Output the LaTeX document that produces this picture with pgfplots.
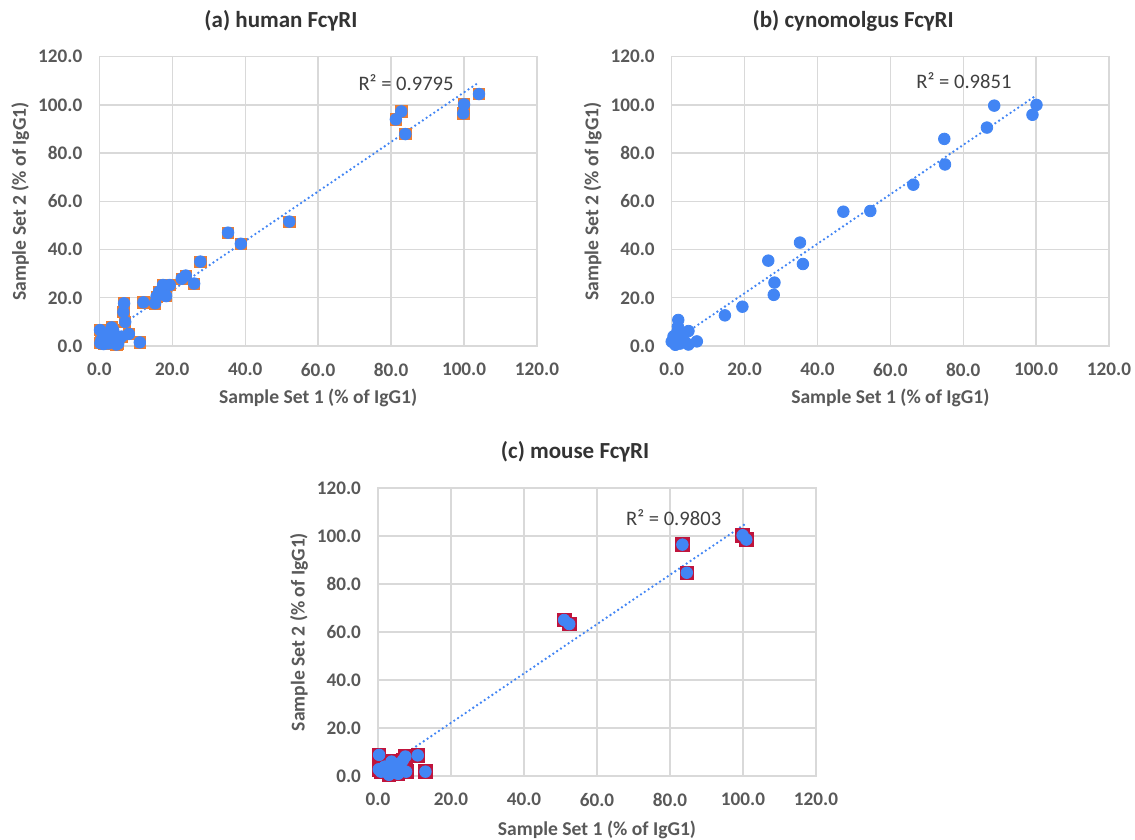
\documentclass[border=0pt]{standalone}
\usepackage{fontspec}
\setmainfont{Carlito}
\usepackage{pgfplots}
\pgfplotsset{compat=1.18}
\usepackage{pgfplotstable}

\definecolor{xlblue}{HTML}{4285F4}
\definecolor{xlorange}{HTML}{ED7D31}
\definecolor{xlred}{HTML}{C0143C}
\definecolor{tickgray}{HTML}{595959}
\definecolor{titlegray}{HTML}{333333}
\definecolor{rgray}{HTML}{404040}
\definecolor{gridgray}{HTML}{D9D9D9}

\newcommand{\ticksfont}{\fontsize{9.6pt}{10pt}\selectfont\bfseries}
\newcommand{\labelfont}{\fontsize{9.8pt}{10pt}\selectfont\bfseries}
\newcommand{\titlefont}{\fontsize{11.5pt}{12pt}\selectfont\bfseries}
\newcommand{\rfont}{\fontsize{10.3pt}{12pt}\selectfont}

% human FcgRI
\pgfplotstableread{
x y
104.1 104.5
100.0 100.2
99.8 96.5
81.3 94.0
82.8 97.3
83.9 87.9
52.1 51.6
35.3 47.0
38.8 42.4
27.7 35.0
26.0 25.9
23.7 29.2
22.6 27.9
19.3 25.3
17.5 25.3
18.3 20.7
16.4 22.5
15.7 20.5
15.3 17.7
12.1 18.1
6.8 17.7
6.6 14.1
7.1 10.0
8.1 5.0
11.1 1.5
0.2 6.6
0.6 2.5
0.3 1.2
1.6 4.6
2.5 1.1
3.4 7.7
3.8 6.5
4.3 2.5
5.2 1.1
6.1 3.9
2.0 3.0
4.7 0.6
1.2 0.8
}\human

% cynomolgus FcgRI
\pgfplotstableread{
x y
100.1 100.0
99.0 95.9
88.5 99.7
86.5 90.6
74.8 85.9
75.0 75.3
66.3 66.9
54.5 56.0
47.1 55.7
35.2 42.9
36.0 34.0
26.5 35.4
28.2 26.3
28.0 21.2
19.4 16.3
14.6 12.7
1.8 10.8
1.7 8.0
1.6 6.0
4.6 6.2
6.9 1.9
4.6 0.6
0.0 1.8
0.5 4.0
2.3 1.0
2.7 3.5
1.0 0.5
3.5 2.0
}\cyno

% mouse FcgRI
\pgfplotstableread{
x y
99.9 100.3
100.9 98.5
83.4 96.4
84.6 84.7
51.0 65.0
52.4 63.3
0.3 8.8
10.9 8.6
7.5 8.1
13.0 1.8
7.7 1.8
3.7 6.0
4.5 5.0
0.8 1.8
2.7 2.5
4.7 1.4
6.2 3.9
1.8 3.9
0.2 2.8
5.5 0.9
3.0 0.5
6.8 6.5
}\mouse

\pgfplotsset{
  xlchart/.style={
    scale only axis,
    xmin=0, xmax=120, ymin=0, ymax=120,
    xtick={0,20,...,120}, ytick={0,20,...,120},
    grid=major,
    major grid style={color=gridgray, line width=0.7pt},
    axis line style={color=gridgray, line width=0.7pt},
    major tick length=0pt,
    tick label style={font=\ticksfont, text=tickgray},
    xticklabel shift=5pt,
    yticklabel shift=5pt,
    /pgf/number format/.cd, fixed, fixed zerofill, precision=1, 1000 sep={}, assume math mode=true,
    /pgfplots/.cd,
    label style={font=\labelfont, text=tickgray},
    title style={font=\titlefont, text=titlegray},
    xlabel={Sample Set 1 (\% of IgG1)},
    ylabel={Sample Set 2 (\% of IgG1)},
    xlabel style={at={([yshift=-26pt]axis description cs:0.5,0)}, anchor=center},
    ylabel style={at={([xshift=-39.5pt]axis description cs:0,0.5)}, anchor=center},
    clip=false,
  },
  trend/.style={xlblue, line width=1.3pt, dash pattern=on 0pt off 2.3pt, line cap=round},
  bluedot/.style={only marks, mark=*, mark size=2.9pt, color=xlblue, mark options={fill=xlblue}},
}

\begin{document}
\begin{tikzpicture}
\path[use as bounding box] (0,0) rectangle (567.5pt,420pt);

% (a) human
\begin{axis}[xlchart,
  at={(49.65pt,247pt)}, anchor=south west,
  width=218.85pt, height=144.65pt,
  title={(a) human FcγRI},
  title style={at={([yshift=11.9pt]axis description cs:0.415,1)}, anchor=center},
]
\addplot[only marks, mark=square*, mark size=2.8pt, color=xlorange, mark options={fill=xlorange}] table[x=x,y=y] {\human};
\addplot[bluedot] table[x=x,y=y] {\human};
\addplot[trend] coordinates {(0,2.5) (104.1,109.4)};
\node[font=\rfont, text=rgray] at (axis cs:84.1,109.1) {R² = 0.9795};
\end{axis}

% (b) cynomolgus
\begin{axis}[xlchart,
  at={(335.85pt,247pt)}, anchor=south west,
  width=218.65pt, height=144.65pt,
  title={(b) cynomolgus FcγRI},
  title style={at={([yshift=11.9pt]axis description cs:0.415,1)}, anchor=center},
]
\addplot[bluedot] table[x=x,y=y] {\cyno};
\addplot[trend] coordinates {(0,1.4) (100.1,104.0)};
\node[font=\rfont, text=rgray] at (axis cs:80.2,110.1) {R² = 0.9851};
\end{axis}

% (c) mouse
\begin{axis}[xlchart,
  at={(189pt,32pt)}, anchor=south west,
  width=219pt, height=144pt,
  title={(c) mouse FcγRI},
  title style={at={([yshift=12pt]axis description cs:0.45,1)}, anchor=center},
  xlabel style={at={([yshift=-27pt]axis description cs:0.5,0)}, anchor=center},
]
\addplot[only marks, mark=square*, mark size=3.4pt, color=xlred, mark options={fill=xlred}] table[x=x,y=y] {\mouse};
\addplot[bluedot] table[x=x,y=y] {\mouse};
\addplot[trend] coordinates {(0,1.6) (100.5,104.9)};
\node[font=\rfont, text=rgray] at (axis cs:81.0,107.7) {R² = 0.9803};
\end{axis}
\end{tikzpicture}
\end{document}
